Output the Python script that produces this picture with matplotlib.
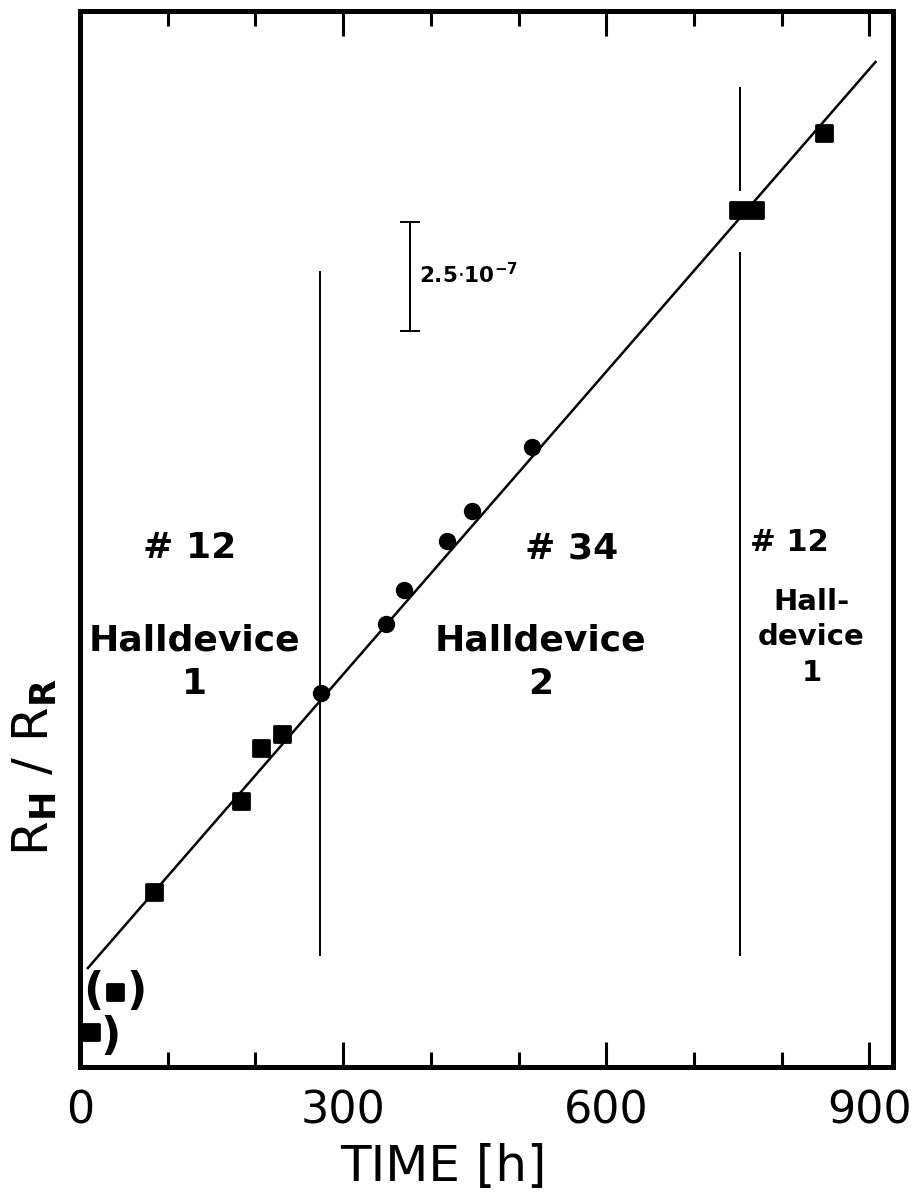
import matplotlib
matplotlib.use("Agg")
import matplotlib.pyplot as plt
from matplotlib.markers import MarkerStyle

# ---- data (time in h, R_H/R_R in units of 1e-7, arbitrary offset) ----
sq_time = [13, 84, 183, 206, 230, 750, 770, 848]
sq_val = [0.80, 4.01, 6.10, 7.32, 7.64, 19.66, 19.66, 21.42]
sq_paren_time = [40]
sq_paren_val = [1.72]
circ_time = [275, 349, 369, 419, 447, 515]
circ_val = [8.58, 10.16, 10.94, 12.06, 12.75, 14.22]
fit_time = [9, 907]
fit_val = [2.27, 23.05]
xticks_major = [0, 300, 600, 900]
xticks_minor = [100, 200, 400, 500, 700, 800]
scale_bar = 2.5  # 2.5e-7

plt.rcParams['font.family'] = ['DejaVu Sans']

fig = plt.figure(figsize=(9.23, 11.92), dpi=100)
ax = fig.add_axes([0.0867, 0.1049, 0.9675 - 0.0867, 0.9908 - 0.1049])
ax.set_xlim(0, 927)
ax.set_ylim(0, 24.22)

# fit line
ax.plot(fit_time, fit_val, color='black', lw=1.8, zorder=2)

# vertical separators
ax.plot([273.5, 273.5], [2.57, 18.23], color='black', lw=1.4, zorder=2)
ax.plot([753, 753], [2.57, 18.67], color='black', lw=1.4, zorder=2)
ax.plot([753, 753], [20.11, 22.45], color='black', lw=1.4, zorder=2)

sq = MarkerStyle('s', joinstyle='round')
ax.plot(sq_time, sq_val, linestyle='none', marker=sq, ms=12, mfc='black',
        mec='black', mew=2, zorder=3, clip_on=False)
ax.plot(sq_paren_time, sq_paren_val, linestyle='none', marker=sq, ms=12,
        mfc='black', mec='black', mew=2, zorder=3)
ax.plot(circ_time, circ_val, linestyle='none', marker='o', ms=12.5,
        mfc='black', mec='black', mew=0, zorder=3)

# parentheses
ax.text(14.8, 1.74, "(", fontsize=32, fontweight='bold', ha='center', va='center')
ax.text(65, 1.74, ")", fontsize=32, fontweight='bold', ha='center', va='center')
ax.text(35, 0.71, ")", fontsize=32, fontweight='bold', ha='center', va='center')

# scale bar
ax.errorbar([376], [18.13], yerr=[[scale_bar / 2], [scale_bar / 2]], color='black',
            lw=1.4, capsize=7, capthick=1.4, zorder=2)
ax.text(386, 18.17, r"2.5$\cdot$10$^{\mathbf{-7}}$", fontsize=15.5, fontweight='bold',
        ha='left', va='center')

# annotations
tkw = dict(fontweight='bold', ha='center', va='center')
ax.text(125, 11.9, "# 12", fontsize=26, **tkw)
ax.text(131, 9.29, "Halldevice\n1", fontsize=26, linespacing=1.35, **tkw)
ax.text(561, 11.9, "# 34", fontsize=26, **tkw)
ax.text(525, 9.29, "Halldevice\n2", fontsize=26, linespacing=1.35, **tkw)
ax.text(809, 12.02, "# 12", fontsize=22, **tkw)
ax.text(834, 9.85, "Hall-\ndevice\n1", fontsize=21, linespacing=1.35, **tkw)

# axes styling
for s in ax.spines.values():
    s.set_linewidth(3.6)
ax.set_xticks(xticks_major)
ax.set_xticks(xticks_minor, minor=True)
ax.set_xticklabels([str(v) for v in xticks_major])
ax.tick_params(axis='x', which='major', direction='in', length=18, width=2.2,
               top=True, bottom=True, labelsize=32, pad=16)
ax.tick_params(axis='x', which='minor', direction='in', length=10.5, width=2.2,
               top=True, bottom=True)
ax.set_yticks([])
ax.set_xlabel("TIME [h]", fontsize=36)
ax.xaxis.set_label_coords(0.4465, -0.072)
ax.set_ylabel(r"R$_{\mathbf{H}}$ / R$_{\mathbf{R}}$", fontsize=36)
ax.yaxis.set_label_coords(-0.026, 0.284)

fig.savefig("out.png", dpi=100)
